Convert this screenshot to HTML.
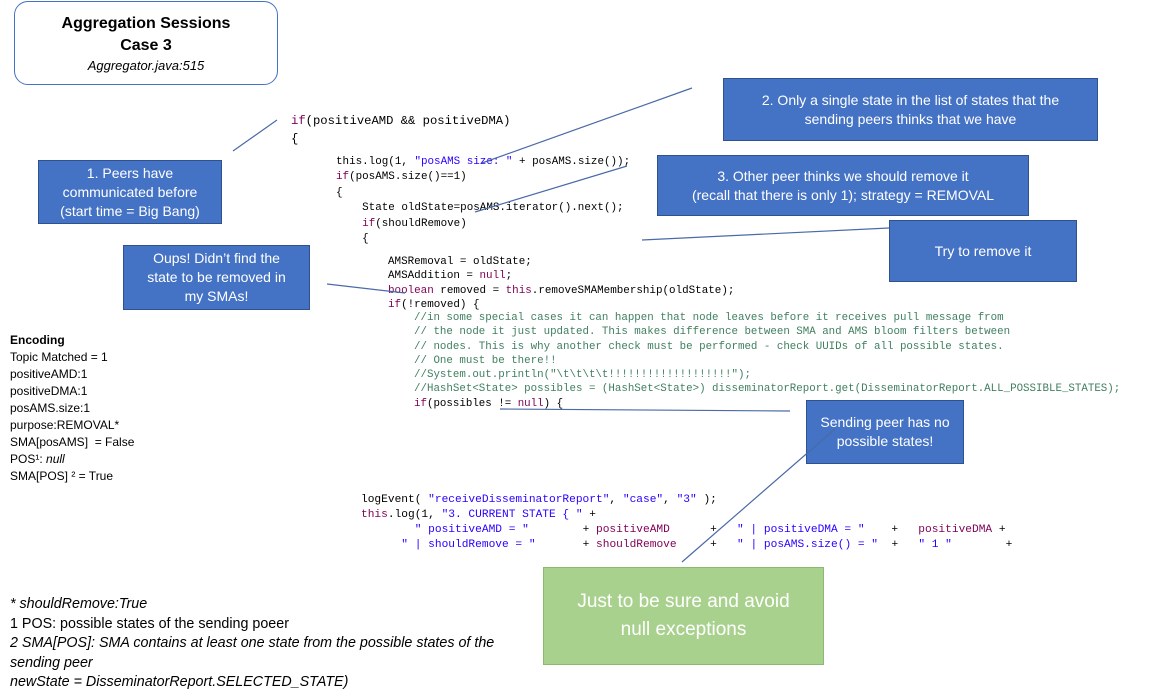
<!DOCTYPE html>
<html><head><meta charset="utf-8"><style>
body{margin:0;width:1170px;height:700px;background:#fff;position:relative;overflow:hidden;font-family:"Liberation Sans",sans-serif}
.a{position:absolute}
.b{position:absolute;background:#4472c4;color:#fff;border:1px solid #2f528f;box-sizing:border-box;display:flex;align-items:center;justify-content:center;text-align:center;font-size:14px;line-height:19px}
.c{position:absolute;font-family:"Liberation Mono",monospace;white-space:pre;color:#000}
.k{color:#7f0055}.s{color:#2a00ff}.g{color:#3f7f5f}
.t{position:absolute;font-size:12px;line-height:17px;white-space:pre}
</style></head><body>
<div class="a" style="left:14px;top:1px;width:264px;height:84px;border:1px solid #4472c4;border-radius:14px;box-sizing:border-box;text-align:center">
<div style="font-weight:bold;font-size:16px;margin-top:11px;line-height:22px">Aggregation Sessions<br>Case 3</div>
<div style="font-style:italic;font-size:13px;line-height:18px">Aggregator.java:515</div></div>

<div class="c" style="left:291px;top:112px;font-size:12.2px;line-height:18px"><span class="k">if</span>(positiveAMD &amp;&amp; positiveDMA)
{</div>
<div class="c" style="left:336px;top:155px;font-size:10.9px;line-height:15.4px">this.log(1, <span class="s">"posAMS size: "</span> + posAMS.size());
<span class="k">if</span>(posAMS.size()==1)
{
    State oldState=posAMS.iterator().next();
    <span class="k">if</span>(shouldRemove)
    {</div>
<div class="c" style="left:388px;top:255px;font-size:10.9px;line-height:14.4px">AMSRemoval = oldState;
AMSAddition = <span class="k">null</span>;
<span class="k">boolean</span> removed = <span class="k">this</span>.removeSMAMembership(oldState);
<span class="k">if</span>(!removed) {</div>
<div class="c g" style="left:414px;top:311px;font-size:10.8px;line-height:14.3px">//in some special cases it can happen that node leaves before it receives pull message from
// the node it just updated. This makes difference between SMA and AMS bloom filters between
// nodes. This is why another check must be performed - check UUIDs of all possible states.
// One must be there!!
//System.out.println("\t\t\t\t!!!!!!!!!!!!!!!!!!!");
//HashSet&lt;State&gt; possibles = (HashSet&lt;State&gt;) disseminatorReport.get(DisseminatorReport.ALL_POSSIBLE_STATES);
<span style="color:#000"><span class="k">if</span>(possibles != <span class="k">null</span>) {</span></div>
<div class="c" style="left:361px;top:493px;font-size:11.2px;line-height:15px">logEvent( <span class="s">"receiveDisseminatorReport"</span>, <span class="s">"case"</span>, <span class="s">"3"</span> );
<span class="k">this</span>.log(1, <span class="s">"3. CURRENT STATE { "</span> +
        <span class="s">" positiveAMD = "</span>        + <span class="k">positiveAMD</span>      +   <span class="s">" | positiveDMA = "</span>    +   <span class="k">positiveDMA</span> +
      <span class="s">" | shouldRemove = "</span>       + <span class="k">shouldRemove</span>     +   <span class="s">" | posAMS.size() = "</span>  +   <span class="s">" 1 "</span>        +</div>

<div class="b" style="left:38px;top:160px;width:184px;height:64px">1. Peers have<br>communicated before<br>(start time = Big Bang)</div>
<div class="b" style="left:723px;top:78px;width:375px;height:63px">2. Only a single state in the list of states that the<br>sending peers thinks that we have</div>
<div class="b" style="left:657px;top:155px;width:372px;height:61px">3. Other peer thinks we should remove it<br>(recall that there is only 1); strategy = REMOVAL</div>
<div class="b" style="left:889px;top:220px;width:188px;height:62px">Try to remove it</div>
<div class="b" style="left:123px;top:245px;width:187px;height:65px">Oups! Didn’t find the<br>state to be removed in<br>my SMAs!</div>
<div class="b" style="left:806px;top:400px;width:158px;height:64px">Sending peer has no<br>possible states!</div>
<div class="b" style="left:543px;top:567px;width:281px;height:98px;background:#a9d18e;border-color:#8cb86f;font-size:19px;line-height:28px">Just to be sure and avoid<br>null exceptions</div>

<svg class="a" style="left:0;top:0" width="1170" height="700"><g stroke="#4a6aa8" stroke-width="1.2" fill="none">
<line x1="233" y1="151" x2="277" y2="120"/>
<line x1="482" y1="163" x2="692" y2="88"/>
<line x1="475" y1="212" x2="627" y2="166"/>
<line x1="642" y1="240" x2="889" y2="228"/>
<line x1="327" y1="284" x2="405" y2="293"/>
<line x1="500" y1="409" x2="790" y2="411"/>
<line x1="682" y1="562" x2="835" y2="429"/>
</g></svg>

<div class="t" style="left:10px;top:332px"><b>Encoding</b>
Topic Matched = 1
positiveAMD:1
positiveDMA:1
posAMS.size:1
purpose:REMOVAL*
SMA[posAMS]  = False
POS¹: <i>null</i>
SMA[POS] ² = True</div>
<div class="a" style="left:10px;top:595px;font-size:14.3px;line-height:19.5px;white-space:nowrap"><i>* shouldRemove:True</i><br>1 POS: possible states of the sending poeer<br><i>2 SMA[POS]: SMA contains at least one state from the possible states of the<br>sending peer<br>newState = DisseminatorReport.SELECTED_STATE)</i></div>
</body></html>
